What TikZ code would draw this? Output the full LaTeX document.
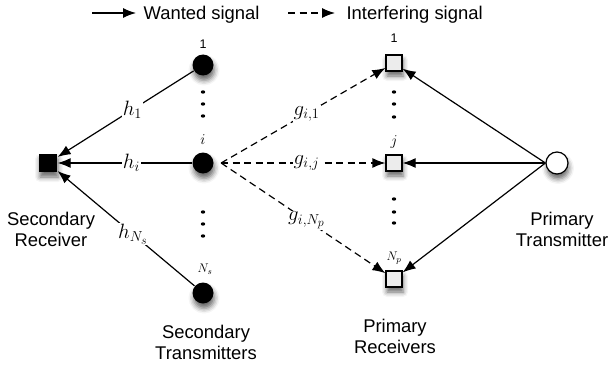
\RequirePackage{fix-cm}
\documentclass[tikz,border=0pt]{standalone}
\usepackage[no-math]{fontspec}
\setmainfont{Liberation Sans}
\usetikzlibrary{arrows.meta,shadows.blur}
\newcommand{\idxfont}{\fontsize{15}{17}\selectfont}
\newcommand{\onefont}{\fontsize{12.5}{14}\selectfont}
\newcommand{\subfont}{\fontsize{12.5}{14}\selectfont}

\begin{document}
\begin{tikzpicture}[x=1pt,y=-1pt,line width=1.2pt,
  every node/.append style={inner sep=0pt},
  soft/.style={blur shadow={shadow xshift=1pt,shadow yshift=-5pt,shadow blur radius=5pt,shadow opacity=60}},
  stx/.style={circle,fill=black,minimum size=21pt,soft},
  srx/.style={rectangle,fill=black,minimum size=18pt,soft},
  prx/.style={rectangle,draw=black,fill=gray!15,line width=1.2pt,minimum size=16pt,soft},
  ptx/.style={circle,draw=black,fill=white,line width=1.2pt,minimum size=22pt,soft},
  wanted/.style={-{Latex[length=13pt,width=10pt]}},
  interf/.style={wanted,dash pattern=on 7pt off 4.5pt},
  lbl/.style={fill=white,inner sep=1pt,font=\fontsize{20.74}{23}\selectfont},
  big/.style={align=center,font=\fontsize{18.4}{21}\selectfont}]
\useasboundingbox (0,0) rectangle (610,369);
% legend
\coordinate (w0) at (92,13);
\coordinate (w1) at (136,13);
\draw[wanted] (w0) -- (w1);
\node[big,anchor=base west] (wtxt) at (143,19.5) {Wanted signal};
\coordinate (i0) at (288,13);
\coordinate (i1) at (335,13);
\draw[interf] (i0) -- (i1);
\node[big,anchor=base west] (itxt) at (346,19.5) {Interfering signal};
% secondary transmitters
\node[stx] (s1) at (203,65) {};
\node[stx] (si) at (203,163) {};
\node[stx] (sn) at (203,293) {};
\node (s1l) at (203,44) {\onefont 1};
\node (sil) at (203,140) {\idxfont$i$};
\node (snl) at (205,269) {\subfont$N_s$};
\foreach \y in {92,104,116,212,224,236}
  \fill (203,\y) ellipse (2.2 and 1.7);
% secondary receiver
\node[srx] (sr) at (48,163) {};
% primary receivers
\node[prx] (p1) at (394,63) {};
\node[prx] (pj) at (394,163) {};
\node[prx] (pn) at (394,279) {};
\node (p1l) at (394,38) {\onefont 1};
\node (pjl) at (394,142) {\idxfont$j$};
\node (pnl) at (394,258) {\subfont$N_p$};
\foreach \y in {92,104,117,199,212,223}
  \fill (394,\y) ellipse (2.2 and 1.7);
% primary transmitter
\node[ptx] (pt) at (557,163) {};
% wanted links
\draw[wanted] (s1) -- node[lbl,pos=0.45] {$h_1$} (sr);
\draw[wanted] (si) -- node[lbl,pos=0.45] {$h_i$} (sr);
\draw[wanted] (sn) -- node[lbl,pos=0.45] {$h_{N_s}$} (sr);
\draw[wanted] (pt.west) -- (p1);
\draw[wanted] (pt.west) -- (pj);
\draw[wanted] (pt.west) -- (pn);
% interference links
\draw[interf] ([xshift=7pt]si.east) -- node[lbl,pos=0.52] {$g_{i,1}$} (p1);
\draw[interf] ([xshift=7pt]si.east) -- node[lbl,pos=0.52] {$g_{i,j}$} (pj);
\draw[interf] ([xshift=7pt]si.east) -- node[lbl,pos=0.52] {$g_{i,N_p}$} (pn);
% captions
\node[big] (srt) at (51,229) {Secondary\\Receiver};
\node[big] (stt) at (206,342) {Secondary\\Transmitters};
\node[big] (prt) at (395,336) {Primary\\Receivers};
\node[big] (ptt) at (562,229) {Primary\\Transmitter};
\end{tikzpicture}
\end{document}
